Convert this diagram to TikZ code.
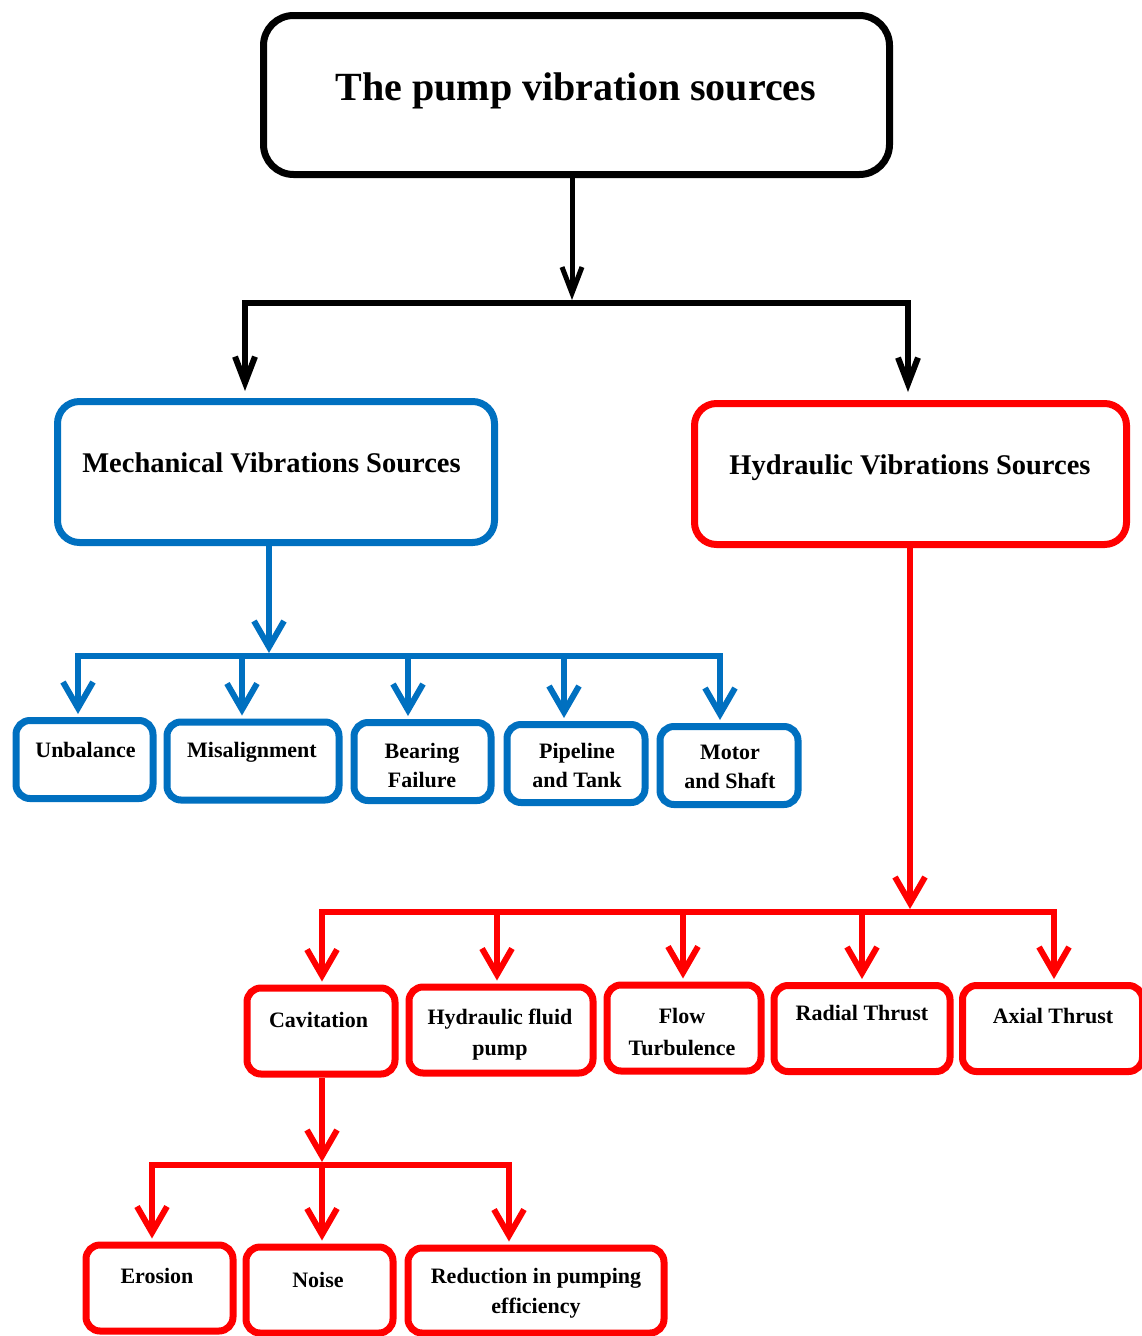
\documentclass[tikz,border=0pt]{standalone}
\usepackage{fontspec}
\setmainfont{Liberation Serif}
\usepackage{tikz}
\usetikzlibrary{arrows.meta}

\definecolor{mechblue}{RGB}{0,112,192}
\definecolor{hydred}{RGB}{255,0,0}

\tikzset{
  box/.style={draw, fill=white, line width=7pt, rounded corners=14pt, inner sep=0pt},
  blackbox/.style={box, draw=black, rounded corners=30pt},
  bluebox/.style={box, draw=mechblue},
  redbox/.style={box, draw=hydred},
  lbl/.style={font=\bfseries\fontsize{22}{30}\selectfont, align=center, anchor=base, inner sep=0pt},
  feed/.style={line width=6pt, -{Straight Barb[length=26pt,width=30pt]}, shorten >=3pt},
  blackfeed/.style={line width=5pt, draw=black, -{Straight Barb[length=26pt,width=20pt]}},
  bluefeed/.style={feed, draw=mechblue},
  redfeed/.style={feed, draw=hydred},
}

\begin{document}
\begin{tikzpicture}[x=1pt, y=-1pt]
  \useasboundingbox[fill=white] (0,0) rectangle (1142,1336);

  % boxes
  \node[blackbox, minimum width=626pt, minimum height=159pt] (top) at (576.5,95) {};
  \node[bluebox, rounded corners=22pt, minimum width=437pt, minimum height=141pt] (mech) at (276,472) {};
  \node[redbox, rounded corners=22pt, minimum width=432pt, minimum height=141pt] (hyd) at (910.5,474) {};

  \node[bluebox, minimum width=137pt, minimum height=78pt] (unb)   at (84.5,759.5) {};
  \node[bluebox, minimum width=172pt, minimum height=78pt] (mis)   at (253,761) {};
  \node[bluebox, minimum width=137pt, minimum height=78pt] (bear)  at (422.5,761.5) {};
  \node[bluebox, minimum width=138pt, minimum height=78pt] (pipe)  at (576,763.5) {};
  \node[bluebox, minimum width=138pt, minimum height=78pt] (motor) at (729,765.5) {};

  \node[redbox, minimum width=148pt, minimum height=86pt] (cav)   at (321,1031) {};
  \node[redbox, minimum width=184pt, minimum height=86pt] (hfp)   at (501,1030) {};
  \node[redbox, minimum width=154pt, minimum height=86pt] (flow)  at (684,1028) {};
  \node[redbox, minimum width=176pt, minimum height=86pt] (rad)   at (862,1028.5) {};
  \node[redbox, minimum width=180pt, minimum height=86pt] (axial) at (1052.5,1028.5) {};

  \node[redbox, minimum width=147pt, minimum height=86pt] (ero)   at (159.5,1288) {};
  \node[redbox, minimum width=147pt, minimum height=86pt] (noise) at (319.5,1290) {};
  \node[redbox, minimum width=256pt, minimum height=85pt] (eff)   at (536,1290.5) {};

  % texts (base = last line)
  \node[lbl, font=\bfseries\fontsize{40}{46}\selectfont] (toptxt) at (576,100) {The pump vibration sources};
  \node[lbl, font=\bfseries\fontsize{28.5}{34}\selectfont] (mechtxt) at (271.5,472) {Mechanical Vibrations Sources};
  \node[lbl, font=\bfseries\fontsize{28.5}{34}\selectfont] (hydtxt) at (910,474) {Hydraulic Vibrations Sources};

  \node[lbl] (unbtxt)   at (85.5,757) {Unbalance};
  \node[lbl] (mistxt)   at (252,757) {Misalignment};
  \node[lbl, font=\bfseries\fontsize{22}{29}\selectfont] (beartxt)  at (422,787) {Bearing\\Failure};
  \node[lbl, font=\bfseries\fontsize{22}{29}\selectfont] (pipetxt)  at (577,787) {Pipeline\\and Tank};
  \node[lbl, font=\bfseries\fontsize{22}{29}\selectfont] (motortxt) at (730,788) {Motor\\and Shaft};

  \node[lbl] (cavtxt)   at (318.5,1027) {Cavitation};
  \node[lbl, font=\bfseries\fontsize{22}{31}\selectfont] (hfptxt)   at (500,1055) {Hydraulic fluid\\pump};
  \node[lbl, font=\bfseries\fontsize{22}{32}\selectfont] (flowtxt)  at (682,1055) {Flow\\Turbulence};
  \node[lbl] (radtxt)   at (862,1020) {Radial Thrust};
  \node[lbl] (axialtxt) at (1053,1023) {Axial Thrust};

  \node[lbl] (erotxt)   at (157,1283) {Erosion};
  \node[lbl] (noisetxt) at (318,1287) {Noise};
  \node[lbl, font=\bfseries\fontsize{22}{30}\selectfont] (efftxt)   at (536,1313) {Reduction in pumping\\efficiency};

  % top split
  \coordinate (j0) at (572,303);
  \coordinate (jL) at (245,303);
  \coordinate (jR) at (908,303);
  \draw[blackfeed, shorten >=3pt] (top.south -| j0) -- (j0);
  \draw[blackfeed, line width=6pt, shorten >=7pt] (j0) -- (jL) -- (jL |- mech.north);
  \draw[blackfeed, line width=6pt, shorten >=8pt] (j0) -- (jR) -- (jR |- hyd.north);

  % mechanical split
  \coordinate (b0) at (269,656);
  \draw[bluefeed] (mech.south -| b0) -- (b0);
  \draw[bluefeed] (b0) -- (78,656) -- (78,656 |- unb.north);
  \draw[bluefeed] (b0) -- (720,656) -- (720,656 |- motor.north);
  \foreach \bx/\bn in {242/mis,408/bear,564/pipe}
    \draw[bluefeed] (\bx,656) -- (\bx,656 |- \bn.north);

  % hydraulic split
  \coordinate (r0) at (910,912);
  \draw[redfeed] (hyd.south -| r0) -- (r0);
  \draw[redfeed] (r0) -- (322,912) -- (322,912 |- cav.north);
  \draw[redfeed] (r0) -- (1054,912) -- (1054,912 |- axial.north);
  \foreach \rx/\rn in {497/hfp,683/flow,862/rad}
    \draw[redfeed] (\rx,912) -- (\rx,912 |- \rn.north);

  % cavitation split
  \coordinate (c0) at (322,1165);
  \draw[redfeed] (cav.south -| c0) -- (c0);
  \draw[redfeed] (c0) -- (152,1165) -- (152,1165 |- ero.north);
  \draw[redfeed] (c0) -- (509,1165) -- (509,1165 |- eff.north);
  \draw[redfeed] (c0) -- (c0 |- noise.north);
\end{tikzpicture}
\end{document}
